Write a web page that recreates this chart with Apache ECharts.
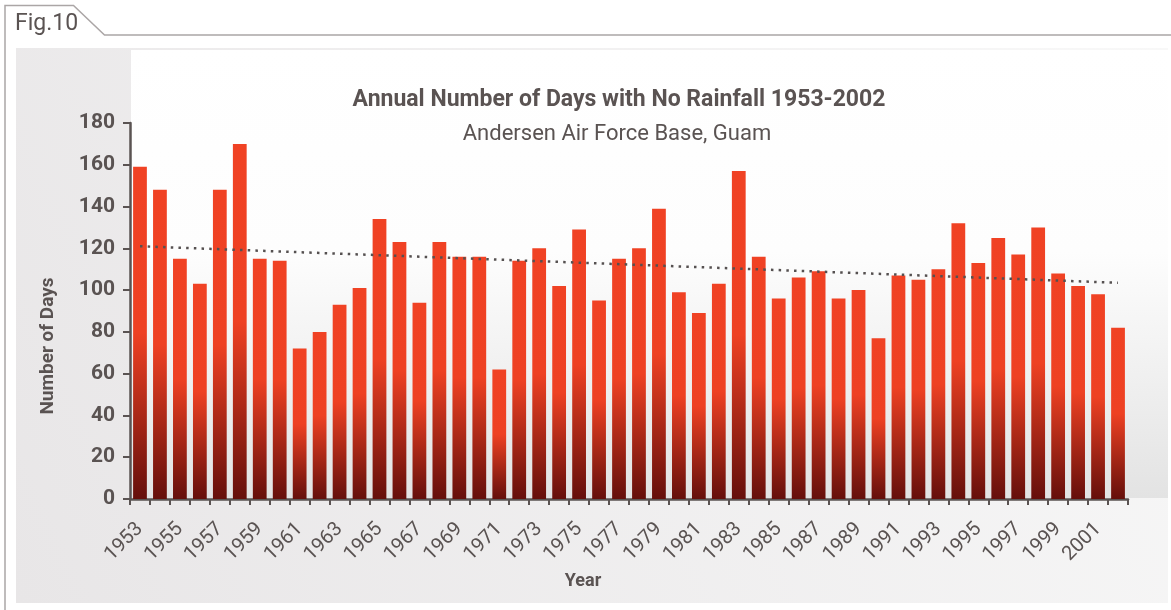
<!DOCTYPE html>
<html>
<head>
<meta charset="utf-8">
<script src="https://cdn.jsdelivr.net/npm/echarts@6/dist/echarts.min.js"></script>
<style>
html,body{margin:0;padding:0;background:#fff;}
#chart{width:1171px;height:610px;}
</style>
</head>
<body>
<div id="chart"></div>
<script>
var years = ['1953','1954','1955','1956','1957','1958','1959','1960','1961','1962',
             '1963','1964','1965','1966','1967','1968','1969','1970','1971','1972',
             '1973','1974','1975','1976','1977','1978','1979','1980','1981','1982',
             '1983','1984','1985','1986','1987','1988','1989','1990','1991','1992',
             '1993','1994','1995','1996','1997','1998','1999','2000','2001','2002'];
var daysNoRain = [159,148,115,103,148,170,115,114,72,80,
                  93,101,134,123,94,123,116,116,62,114,
                  120,102,129,95,115,120,139,99,89,103,
                  157,116,96,106,109,96,100,77,107,105,
                  110,132,113,125,117,130,108,102,98,82];
var trendYears = ['1953','2002'];
var trendValues = [121,103.5];
var yTicks = [0,20,40,60,80,100,120,140,160,180];

var TXT = '#5a5352';
var chart = echarts.init(document.getElementById('chart'));
chart.setOption({
  animation:false,
  backgroundColor:'#ffffff',
  textStyle:{fontFamily:'Roboto'},
  title:[
    {text:'Annual Number of Days with No Rainfall 1953-2002', left:619, top:89, padding:0, textAlign:'center',
     textStyle:{fontFamily:'Roboto', fontSize:23, fontWeight:'bold', color:TXT}},
    {text:'Andersen Air Force Base, Guam', left:617, top:123, padding:0, textAlign:'center',
     textStyle:{fontFamily:'Roboto', fontSize:22, fontWeight:'normal', color:TXT}},
    {text:'Fig.10', left:15, top:13, padding:0,
     textStyle:{fontFamily:'Roboto', fontSize:23, fontWeight:'normal', color:TXT}}
  ],
  graphic:[
    {type:'rect', z:-10, silent:true, shape:{x:16,y:48,width:1152,height:555},
     style:{fill:new echarts.graphic.LinearGradient(0,1,1,0,[{offset:0,color:'#e8e6e7'},{offset:1,color:'#f8f8f8'}])}},
    {type:'rect', z:-9, silent:true, shape:{x:131,y:50,width:1037,height:448},
     style:{fill:new echarts.graphic.LinearGradient(0,0,0,1,[{offset:0,color:'#ffffff'},{offset:0.45,color:'#fdfdfd'},{offset:1,color:'#e3e3e3'}])}},
    {type:'polyline', z:-8, silent:true, shape:{points:[[5,610],[5,5.5],[73.5,5.5],[104.5,35],[1171,35]]},
     style:{stroke:'#aba6a6', lineWidth:1.5, fill:null}}
  ],
  grid:{left:130, right:43, top:123, bottom:111, containLabel:false},
  xAxis:{
    type:'category', data:years, boundaryGap:true,
    name:'Year', nameLocation:'middle', nameGap:73,
    nameTextStyle:{fontFamily:'Roboto', fontSize:18, fontWeight:'bold', color:TXT, padding:[0,92,0,0]},
    axisLine:{lineStyle:{color:TXT, width:2.5}},
    axisTick:{show:true, alignWithLabel:false, interval:0, length:6, lineStyle:{color:TXT, width:2}},
    axisLabel:{interval:1, rotate:45, margin:27, fontFamily:'Roboto', fontSize:20, color:TXT}
  },
  yAxis:{
    type:'value', min:0, max:180, interval:20,
    name:'Number of Days', nameLocation:'middle', nameGap:72, nameRotate:90,
    nameTextStyle:{fontFamily:'Roboto', fontSize:19, fontWeight:'bold', color:TXT, padding:[0,70,0,0]},
    axisLine:{show:true, lineStyle:{color:TXT, width:2.5}},
    axisTick:{show:true, length:7, lineStyle:{color:TXT, width:2}},
    splitLine:{show:false},
    axisLabel:{margin:15, fontFamily:'Roboto', fontSize:21, fontWeight:'bold', color:TXT,
      formatter:function(v){return yTicks.indexOf(v)>=0 ? String(v) : '';}}
  },
  series:[
    {type:'bar', data:daysNoRain, barWidth:'69%',
     itemStyle:{color:new echarts.graphic.LinearGradient(0,0,0,1,[
       {offset:0,color:'#f04224'},{offset:0.5,color:'#ee4123'},{offset:1,color:'#650f0b'}])}},
    {type:'line', data:[[trendYears[0],trendValues[0]],[trendYears[1],trendValues[1]]],
     symbol:'none', z:5,
     lineStyle:{color:'#555050', width:2.5, type:[2.5,5.2], cap:'butt'}}
  ]
});
</script>
</body>
</html>
